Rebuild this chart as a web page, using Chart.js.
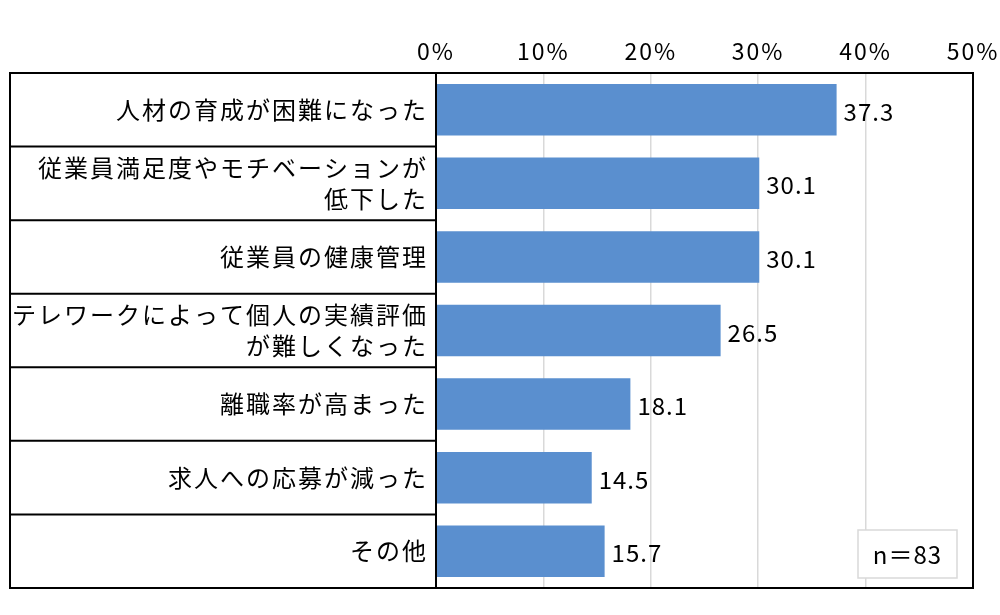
<!DOCTYPE html>
<html>
<head>
<meta charset="utf-8">
<script src="https://cdn.jsdelivr.net/npm/chart.js@4/dist/chart.umd.min.js"></script>
<style>
  body { margin: 0; background: #fff; }
</style>
</head>
<body>
<canvas id="barChart" width="1000" height="615"></canvas>
<script>
/* ========= DATA ========= */

const categories = [
  "人材の育成が困難になった",
  ["従業員満足度やモチベーションが", "低下した"],
  "従業員の健康管理",
  ["テレワークによって個人の実績評価", "が難しくなった"],
  "離職率が高まった",
  "求人への応募が減った",
  "その他"
];
const values = [37.3, 30.1, 30.1, 26.5, 18.1, 14.5, 15.7];
const xTicks = [0, 10, 20, 30, 40, 50];
const sampleNote = "n＝83";

const FONT = "'Noto Sans CJK JP', 'Noto Sans', sans-serif";

/* ========= PLUGIN: frame, label boxes, value labels, n box ========= */

const framePlugin = {
  id: "frame",
  beforeDraw(chart) {
    chart.ctx.letterSpacing = "2px";
  },
  afterDraw(chart) {
    const ctx = chart.ctx;
    const area = chart.chartArea;
    const y = chart.scales.y;
    const left = 10;

    ctx.save();
    ctx.letterSpacing = "0px";
    ctx.strokeStyle = "#000";
    ctx.lineWidth = 2;
    ctx.strokeRect(left, area.top, area.right - left, area.bottom - area.top);
    ctx.beginPath();
    ctx.moveTo(area.left, area.top);
    ctx.lineTo(area.left, area.bottom);
    for (let i = 0; i < categories.length - 1; i++) {
      const yy = (y.getPixelForTick(i) + y.getPixelForTick(i + 1)) / 2;
      ctx.moveTo(left, yy);
      ctx.lineTo(area.left, yy);
    }
    ctx.stroke();

    // value labels
    ctx.letterSpacing = "1px";
    ctx.fillStyle = "#000";
    ctx.font = "24px " + FONT;
    ctx.textAlign = "left";
    ctx.textBaseline = "middle";
    chart.getDatasetMeta(0).data.forEach((bar, i) => {
      ctx.fillText(values[i].toFixed(1), bar.x + 7, bar.y + 2);
    });

    // n box
    const bw = 99, bh = 48;
    const bx = area.right - 16 - bw, by = area.bottom - 10 - bh;
    ctx.fillStyle = "#fff";
    ctx.fillRect(bx, by, bw, bh);
    ctx.strokeStyle = "#d9d9d9";
    ctx.lineWidth = 1.5;
    ctx.strokeRect(bx, by, bw, bh);
    ctx.fillStyle = "#000";
    ctx.textAlign = "center";
    ctx.fillText(sampleNote, bx + bw / 2, by + bh / 2 + 1);
    ctx.restore();
  }
};

/* ========= CHART ========= */

const ctx = document.getElementById("barChart");

new Chart(ctx, {
  type: "bar",
  data: {
    labels: categories,
    datasets: [{
      data: values,
      backgroundColor: "#5a8fcf",
      barPercentage: 0.7,
      categoryPercentage: 1.0
    }]
  },
  options: {
    indexAxis: "y",
    responsive: false,
    animation: false,
    layout: {
      padding: { left: 10, right: 27, top: 0, bottom: 27 }
    },
    plugins: {
      legend: { display: false },
      tooltip: { enabled: false }
    },
    scales: {
      x: {
        position: "top",
        min: 0,
        max: 50,
        afterBuildTicks(scale) {
          scale.ticks = xTicks.map(v => ({ value: v }));
        },
        afterFit(scale) {
          scale.height = 73;
          scale.paddingLeft = 0;
          scale.paddingRight = 0;
        },
        grid: {
          color: "#d9d9d9",
          lineWidth: 1.5,
          drawTicks: false
        },
        border: { display: false },
        ticks: {
          padding: 8,
          color: "#000",
          font: { family: FONT, size: 23 },
          callback: v => v + "%"
        }
      },
      y: {
        afterFit(scale) {
          scale.width = 426;
        },
        grid: { display: false },
        border: { display: false },
        ticks: {
          padding: 0,
          color: "#000",
          font: { family: FONT, size: 24, lineHeight: 1.3 }
        }
      }
    }
  },
  plugins: [framePlugin]
});
</script>
</body>
</html>
